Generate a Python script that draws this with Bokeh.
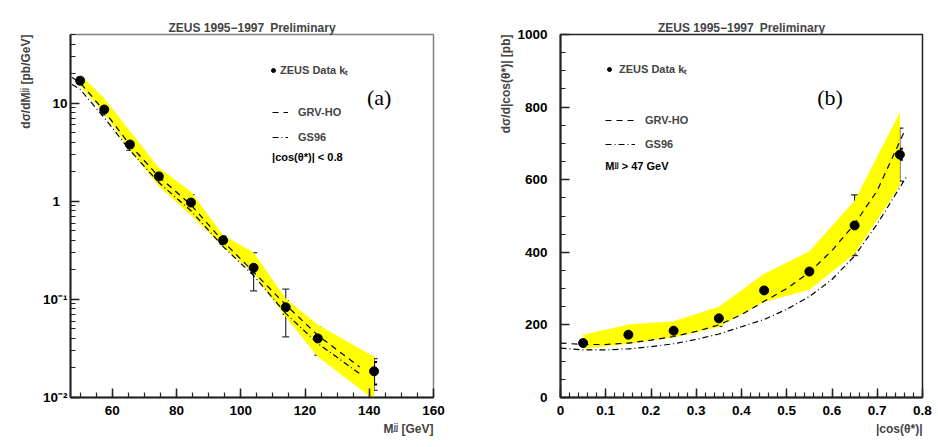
from math import pi
from bokeh.plotting import figure
from bokeh.layouts import row
from bokeh.models import (ColumnDataSource, Whisker, TeeHead, Label, Legend, LegendItem,
                          FixedTicker, CustomJSTickFormatter, Title, LinearAxis)
from bokeh.embed import file_html
from bokeh.resources import INLINE

# ---------------- Panel (a): d sigma / d M^jj ----------------
mjj = [50, 57.5, 65.5, 74.5, 84.5, 94.5, 104, 114, 124, 141.5]
dsig_dm = [16.9, 8.6, 3.78, 1.79, 0.97, 0.40, 0.21, 0.083, 0.040, 0.0185]
dm_tot_hi = [18.3, 9.7, 4.3, 1.92, 1.17, 0.44, 0.30, 0.127, 0.0525, 0.0249]
dm_tot_lo = [15.6, 7.6, 3.3, 1.68, 0.78, 0.36, 0.122, 0.0415, 0.027, 0.0118]
dm_stat_hi = [17.6, 9.2, 4.05, 1.85, 1.05, 0.42, 0.24, 0.096, 0.0485, 0.023]
dm_stat_lo = [16.2, 8.0, 3.5, 1.73, 0.88, 0.38, 0.187, 0.071, 0.030, 0.0136]
dm_band_hi = [19.6, 11.2, 5.2, 2.2, 1.26, 0.45, 0.30, 0.102, 0.055, 0.026]
dm_band_lo = [15.0, 7.9, 3.35, 1.42, 0.72, 0.345, 0.185, 0.066, 0.026, 0.0095]

mjj_th = [47.5, 50, 57.5, 65.5, 74.5, 84.5, 94.5, 104, 114, 124, 137]
grv_dm = [18.2, 16.2, 8.3, 3.75, 1.78, 0.92, 0.39, 0.19, 0.088, 0.043, 0.0205]
gs96_dm = [15.5, 13.8, 7.1, 3.3, 1.55, 0.80, 0.345, 0.175, 0.072, 0.0355, 0.0175]

a_xticks = [60, 80, 100, 120, 140, 160]
a_yticks = [0.01, 0.1, 1, 10]

# ---------------- Panel (b): d sigma / d|cos theta*| ----------------
cth = [0.05, 0.15, 0.25, 0.35, 0.45, 0.55, 0.65, 0.75]
dsig_dc = [150, 173, 184, 218, 295, 347, 474, 669]
dc_tot_hi = [158, 191, 191, 241, 305, 370, 558, 742]
dc_tot_lo = [143, 152, 175, 196, 284, 322, 391, 596]
dc_stat_hi = [155, 180, 189, 225, 300, 358, 486, 685]
dc_stat_lo = [145, 165, 179, 210, 290, 336, 462, 655]
dc_band_hi = [173, 201, 210, 250, 341, 403, 543, 786]
dc_band_lo = [134, 148, 165, 194, 263, 297, 396, 584]

cth_grv = [0, 0.05, 0.1, 0.15, 0.2, 0.25, 0.3, 0.35, 0.4, 0.45, 0.5, 0.55, 0.6, 0.65, 0.7, 0.762]
grv_dc = [150, 146, 146, 150, 158, 168, 182, 200, 228, 265, 300, 345, 405, 478, 570, 738]
cth_gs = [0, 0.05, 0.1, 0.15, 0.2, 0.25, 0.3, 0.35, 0.4, 0.45, 0.5, 0.55, 0.6, 0.65, 0.7, 0.764]
gs96_dc = [136, 131, 131, 134, 140, 148, 160, 175, 195, 215, 243, 278, 325, 390, 478, 607]

b_xticks = [0, 0.1, 0.2, 0.3, 0.4, 0.5, 0.6, 0.7, 0.8]
b_yticks = [0, 200, 400, 600, 800, 1000]

TITLE = "ZEUS 1995\u22121997\u2002Preliminary"
FONT = "Liberation Sans"
YELLOW = "#ffff00"


def style(p, outline):
    """Style plot; returns (bottom x axis, left y axis)."""
    xa = p.below[0]
    ya = p.left[0]
    p.xgrid.visible = False
    p.ygrid.visible = False
    p.outline_line_color = outline
    p.outline_line_width = 1.5
    p.background_fill_color = "white"
    p.border_fill_color = "white"
    p.title.text = TITLE
    p.title.align = "center"
    p.title.text_font = FONT
    p.title.text_font_style = "bold"
    p.title.text_font_size = "12px"
    p.title.standoff = 0
    for ax in (xa, ya):
        ax.axis_line_color = "#222222"
        ax.axis_line_width = 2
        ax.major_tick_in = 9
        ax.major_tick_out = 0
        ax.minor_tick_in = 5
        ax.minor_tick_out = 0
        ax.major_tick_line_color = "#222222"
        ax.minor_tick_line_color = "#222222"
        ax.major_tick_line_width = 1.5
        ax.minor_tick_line_width = 1.2
        ax.major_label_text_font = FONT
        ax.major_label_text_font_style = "bold"
        ax.major_label_text_font_size = "13.5px"
        ax.major_label_text_color = "black"
    xa.major_label_standoff = 8
    # tick-less, label-free axis used only as a spacer so the title sits near the top edge
    spacer = LinearAxis(ticker=FixedTicker(ticks=[]), major_tick_in=0, major_tick_out=17,
                        minor_tick_in=0, minor_tick_out=0, axis_line_alpha=0,
                        major_tick_line_color="white", minor_tick_line_color="white",
                        major_label_standoff=0)
    p.add_layout(spacer, "above")
    return xa, ya


def axis_title(p, text, side, standoff):
    p.add_layout(Title(text=text, align="right", text_font=FONT, text_font_style="bold",
                       text_font_size="12px", standoff=standoff), side)


def add_label(p, x, y, text, size="11px", font=FONT, style_="bold"):
    p.add_layout(Label(x=x, y=y, text=text, text_font=font, text_font_style=style_,
                       text_font_size=size, text_align="left", text_baseline="middle",
                       text_color="black"))


def add_errors(p, src, lo, hi, width, color, head):
    w = Whisker(base="x", lower=lo, upper=hi, dimension="height", source=src,
                line_color=color, line_width=width,
                lower_head=TeeHead(size=head, line_color=color, line_width=width),
                upper_head=TeeHead(size=head, line_color=color, line_width=width))
    p.add_layout(w)


def legends(p, pts, grv, gs, loc_pts, loc_lines, gw_pts, so_pts, gw_lines, sp_lines):
    common = dict(background_fill_alpha=0, border_line_alpha=0, padding=0, margin=0,
                  glyph_height=12, label_height=12, label_text_font=FONT,
                  label_text_font_style="bold", label_text_font_size="11px")
    l1 = Legend(items=[LegendItem(label="ZEUS Data k\u209c", renderers=[pts])],
                location=loc_pts, glyph_width=gw_pts, label_standoff=so_pts, **common)
    l2 = Legend(items=[LegendItem(label="GRV-HO", renderers=[grv]),
                       LegendItem(label="GS96", renderers=[gs])],
                location=loc_lines, glyph_width=gw_lines, label_standoff=10,
                spacing=sp_lines, **common)
    p.add_layout(l1)
    p.add_layout(l2)


# ---------------- build panel (a) ----------------
pa = figure(width=490, height=445, x_range=(47, 160), y_range=(0.01, 50),
            y_axis_type="log", output_backend="svg", toolbar_location=None,
            min_border_left=70, min_border_right=57, min_border_top=34, min_border_bottom=48)
xa_a, ya_a = style(pa, "#808080")
xa_a.ticker = FixedTicker(ticks=a_xticks, minor_ticks=list(range(50, 161, 5)))
minor_log = [m * 10.0 ** e for e in (-2, -1, 0, 1) for m in range(2, 10)]
ya_a.ticker = FixedTicker(ticks=a_yticks, minor_ticks=minor_log)
ya_a.formatter = CustomJSTickFormatter(code="""
    if (Math.abs(tick - 10) < 1e-6) return "10";
    if (Math.abs(tick - 1) < 1e-6) return "1\u2007";
    if (Math.abs(tick - 0.1) < 1e-9) return "10\u207b\u00b9";
    if (Math.abs(tick - 0.01) < 1e-9) return "10\u207b\u00b2";
    return "";
""")
ya_a.major_label_standoff = 3

src_a = ColumnDataSource(dict(x=mjj, y=dsig_dm, thi=dm_tot_hi, tlo=dm_tot_lo,
                              shi=dm_stat_hi, slo=dm_stat_lo, bhi=dm_band_hi, blo=dm_band_lo))
pa.varea(x="x", y1="blo", y2="bhi", source=src_a, fill_color=YELLOW)
grv_a = pa.line(mjj_th, grv_dm, line_color="black", line_width=1.2, line_dash="6 5")
gs_a = pa.line(mjj_th, gs96_dm, line_color="black", line_width=1.2, line_dash="6 3 1 3")
add_errors(pa, src_a, "tlo", "thi", 1.2, "#333333", 7)
add_errors(pa, src_a, "slo", "shi", 2, "black", 6)
pts_a = pa.scatter(x="x", y="y", source=src_a, size=9, marker="circle",
                   fill_color="black", line_color="black")

legends(pa, pts_a, grv_a, gs_a, (198, 320), (202, 254), 10, 2, 16, 13)

axis_title(pa, "d\u03c3/dM\u02b2\u02b2 [pb/GeV]", "left", 14)
axis_title(pa, "M\u02b2\u02b2 [GeV]", "below", 4)
add_label(pa, 139.3, 11.4, "(a)", size="22px", font="Liberation Serif", style_="normal")
add_label(pa, 109.75, 2.85, "|cos(\u03b8*)| < 0.8")

# ---------------- build panel (b) ----------------
pb = figure(width=446, height=445, x_range=(0, 0.8), y_range=(0, 1000),
            output_backend="svg", toolbar_location=None,
            min_border_left=70, min_border_right=14, min_border_top=34, min_border_bottom=48)
xa_b, ya_b = style(pb, "#222222")
xa_b.ticker = FixedTicker(ticks=b_xticks, minor_ticks=[i * 0.02 for i in range(41)])
ya_b.ticker = FixedTicker(ticks=b_yticks, minor_ticks=list(range(0, 1001, 50)))
xa_b.major_label_overrides = {0: "0"}
ya_b.major_label_standoff = 13

src_b = ColumnDataSource(dict(x=cth, y=dsig_dc, thi=dc_tot_hi, tlo=dc_tot_lo,
                              shi=dc_stat_hi, slo=dc_stat_lo, bhi=dc_band_hi, blo=dc_band_lo))
pb.varea(x="x", y1="blo", y2="bhi", source=src_b, fill_color=YELLOW)
grv_b = pb.line(cth_grv, grv_dc, line_color="black", line_width=1.2, line_dash="6 5")
gs_b = pb.line(cth_gs, gs96_dc, line_color="black", line_width=1.2, line_dash="6 3 1 3")
add_errors(pb, src_b, "tlo", "thi", 1.2, "#222222", 7)
add_errors(pb, src_b, "slo", "shi", 2, "black", 6)
pts_b = pb.scatter(x="x", y="y", source=src_b, size=9, marker="circle",
                   fill_color="black", line_color="black")

legends(pb, pts_b, grv_b, gs_b, (44, 321), (45, 247), 10, 5, 30, 12)

axis_title(pb, "d\u03c3/d|cos(\u03b8*)| [pb]", "left", 4)
axis_title(pb, "|cos(\u03b8*)|", "below", 4)
add_label(pb, 0.5675, 826.4, "(b)", size="22px", font="Liberation Serif", style_="normal")
add_label(pb, 0.0989, 636.4, "M\u02b2\u02b2 > 47 GeV")

layout = row(pa, pb)
open("out.html", "w").write(file_html(layout, INLINE))
